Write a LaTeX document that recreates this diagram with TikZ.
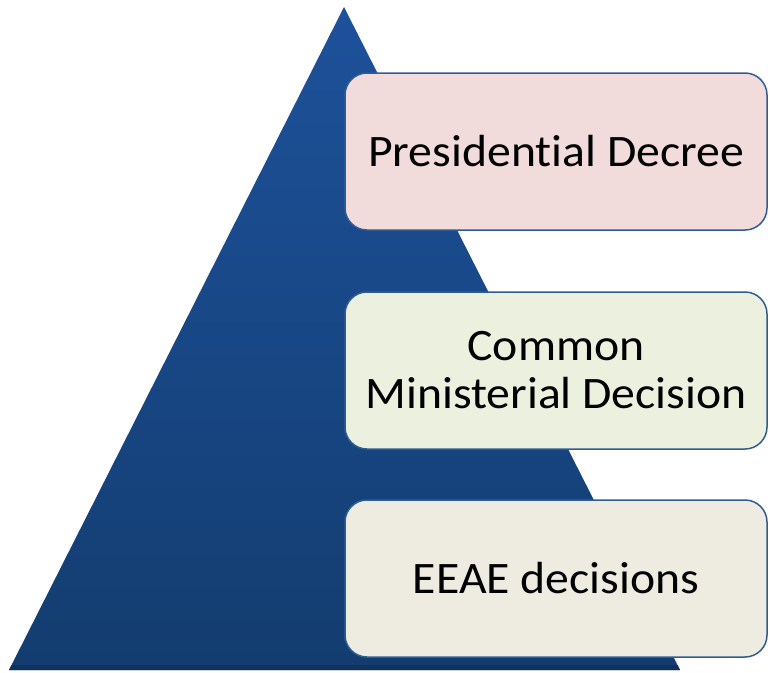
\documentclass[tikz,border=0pt]{standalone}
\usepackage{fontspec}
\setmainfont{Carlito}[Ligatures=NoCommon, FakeStretch=1.06]
\usetikzlibrary{calc}
\begin{document}
\begin{tikzpicture}[x=1pt,y=-1pt,
  tier/.style={draw=boxline, line width=1.5pt, rounded corners=22pt,
    minimum width=422pt, minimum height=157pt, align=center,
    font=\fontsize{45}{48}\selectfont, text=black, inner sep=0pt}]
\definecolor{boxline}{HTML}{2F5D93}
\definecolor{pyrtop}{HTML}{1D519A}
\definecolor{pyrbot}{HTML}{133D70}
\definecolor{pinkfill}{HTML}{F2DCDB}
\definecolor{greenfill}{HTML}{EBF1DE}
\definecolor{tanfill}{HTML}{EEECE1}
\useasboundingbox (0,0) rectangle (770,672);
% pyramid
\coordinate (apex) at (344,7);
\coordinate (bl) at (9,670);
\coordinate (br) at (680,670);
\shade[top color=pyrtop, bottom color=pyrbot] (apex) -- (br) -- (bl) -- cycle;
\fill[pyrbot!80!black] (bl) -- (br) -- ($(br)+(-2.5,-5)$) -- ($(bl)+(2.5,-5)$) -- cycle;
% tiers
\node[tier, fill=pinkfill] (t1) at (556,151.5) {Presidential Decree};
\node[tier, fill=greenfill] (t2) at (556,370.5) {Common\\Ministerial Decision};
\node[tier, fill=tanfill] (t3) at (556,578.5) {EEAE decisions};
\end{tikzpicture}
\end{document}
